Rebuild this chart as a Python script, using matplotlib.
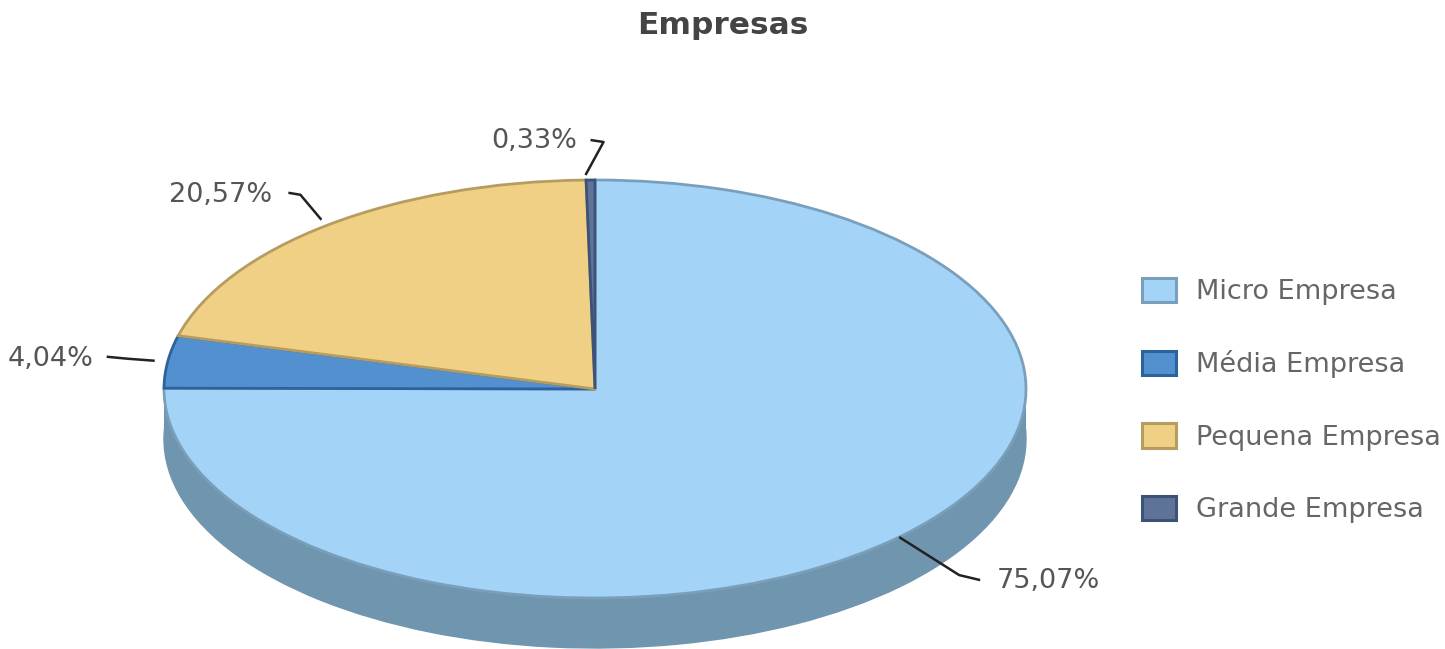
import numpy as np
import matplotlib
matplotlib.use("Agg")
import matplotlib.pyplot as plt
from matplotlib.patches import Patch

TITLE = "Empresas"
categories = ["Micro Empresa", "Média Empresa", "Pequena Empresa", "Grande Empresa"]
values = [75.07, 4.04, 20.57, 0.33]
value_labels = ["75,07%", "4,04%", "20,57%", "0,33%"]

face = ["#A4D3F8", "#5290D0", "#F0D084", "#5F7399"]
edge = ["#7A9FBB", "#2C639C", "#B69C60", "#3D5278"]
side = "#7095AF"

W, H = 1445, 649
CX, CY = 595, 389
RX, RY = 431, 209
DEPTH = 50 / RY

# leader line points as offsets from the rim (px, y down), then the label anchor
leaders = [
    ((0, 0), (60, 38), (81, 43), "left", (98, 44)),
    ((-13, -1), (-40, -3), (-61, -5), "right", (-74, -3)),
    ((-7, -5), (-28, -30), (-40, -32), "right", (-56, -30)),
    ((-5, -5), (13, -38), (0, -40), "right", (-13, -39)),
]

fig = plt.figure(figsize=(W / 100, H / 100), dpi=100)
ax = fig.add_axes([0, 0, 1, 1])

# side of the disc: same pie pushed down, joined by a band
ax.pie(values, colors=[side] * 4, startangle=90, counterclock=False, center=(0, -DEPTH),
       wedgeprops=dict(edgecolor=side, linewidth=1, zorder=1))
ax.fill_between([-1, 1], -DEPTH, 0, color=side, lw=0, zorder=1)

wedges, _ = ax.pie(values, colors=face, startangle=90, counterclock=False,
                   wedgeprops=dict(linewidth=2, zorder=2))
for w, c in zip(wedges, edge):
    w.set_edgecolor(c)

ax.set_aspect("auto")
ax.set_xlim(-CX / RX, (W - CX) / RX)
ax.set_ylim((CY - H) / RY, CY / RY)
ax.axis("off")

for w, (p0, p1, p2, ha, tp), lab in zip(wedges, leaders, value_labels):
    mid = np.radians((w.theta1 + w.theta2) / 2)
    x0, y0 = np.cos(mid), np.sin(mid)
    xs = [x0 + p[0] / RX for p in (p0, p1, p2)]
    ys = [y0 - p[1] / RY for p in (p0, p1, p2)]
    ax.plot(xs, ys, color="#222222", lw=1.8, zorder=3, solid_capstyle="butt")
    ax.text(x0 + tp[0] / RX, y0 - tp[1] / RY, lab, ha=ha, va="center", fontsize=19.5, color="#555555")

fig.text((637 + 808) / 2 / W, 1 - 26 / H, TITLE, ha="center", va="center", fontsize=22.5,
         fontweight="bold", color="#444444")

handles = [Patch(facecolor=f, edgecolor=e, linewidth=2.2) for f, e in zip(face, edge)]
ax.legend(handles, categories, loc="upper left", bbox_to_anchor=(1142 / W, 1 - 278 / H),
          frameon=False, fontsize=19.5, labelcolor="#666666", handlelength=1.26, handleheight=1.0,
          labelspacing=1.66, handletextpad=0.74, borderaxespad=0, borderpad=0)

fig.savefig("out.png", dpi=100)
